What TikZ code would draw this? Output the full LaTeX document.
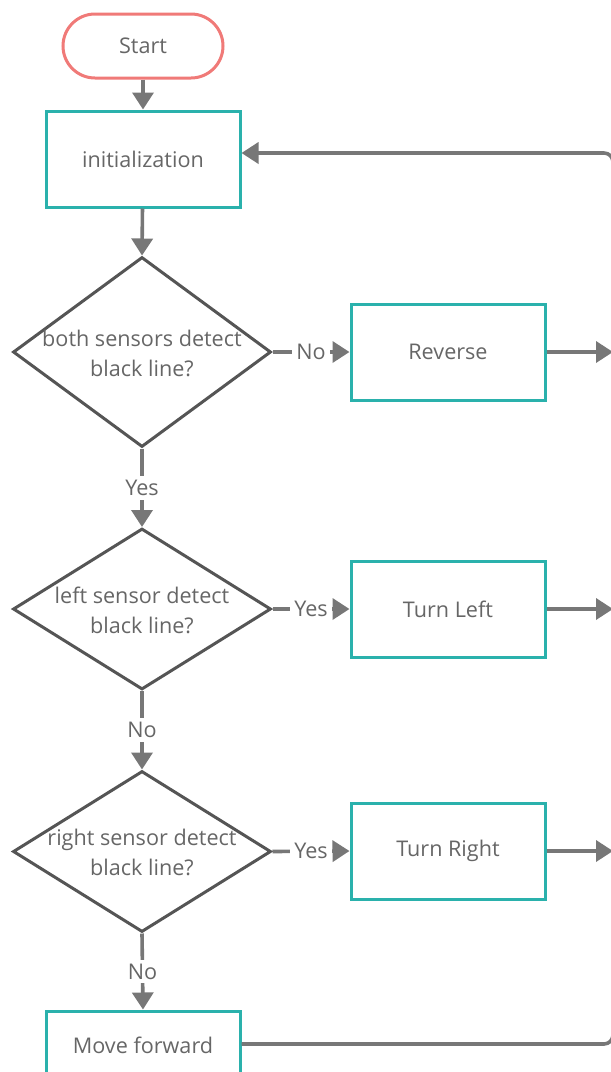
\documentclass[tikz,border=0pt]{standalone}
\usepackage{fontspec}
\setmainfont{Open Sans}
\usetikzlibrary{shapes.geometric,arrows.meta,calc}
\definecolor{boxteal}{HTML}{2AB1AC}
\definecolor{startred}{HTML}{F07A78}
\definecolor{wiregray}{HTML}{777777}
\definecolor{decgray}{HTML}{555555}
\definecolor{txtgray}{HTML}{666666}
\tikzset{
  every node/.style={font=\fontsize{21.6}{30}\selectfont, text=txtgray, align=center},
  terminal/.style={draw=startred, line width=3pt, rectangle, rounded corners=32pt,
    minimum width=160pt, minimum height=64pt, inner sep=0pt},
  procbox/.style={draw=boxteal, line width=3pt, rectangle,
    minimum width=194pt, minimum height=96pt, inner sep=0pt},
  decision/.style={draw=decgray, line width=3pt, diamond, inner sep=0pt,
    minimum width=258pt, minimum height=#1},
  decision/.default=190pt,
  wire/.style={draw=wiregray, line width=3.6pt},
  conn/.style={wire, -{Triangle[length=17pt,width=21pt]}},
  lbl/.style={fill=white, inner sep=4pt},
}
\begin{document}
\begin{tikzpicture}[x=1pt,y=-1pt]
\useasboundingbox (0,0) rectangle (611,1072);
\clip (0,0) rectangle (611,1072);

% main column
\node[terminal] (start) at (143,46) {Start};
\node[procbox] (init) at (143,159) {initialization};
\node[decision] (d1) at (142,352) {};
\node (d1t) at (142,353) {both sensors detect\\black line?};
\node[decision=161pt] (d2) at (142,609) {};
\node (d2t) at (142,610) {left sensor detect\\black line?};
\node[decision=161pt] (d3) at (142,851.5) {};
\node (d3t) at (142,852) {right sensor detect\\black line?};
\node[procbox, minimum height=68pt] (mf) at (143,1045) {Move forward};

% action column
\node[procbox] (rev) at (448,352) {Reverse};
\node[procbox] (tl) at (448,609) {Turn Left};
\node[procbox] (tr) at (448,851) {Turn Right};

% return rail on the right
\coordinate (rt) at (613,153);
\coordinate (rb) at (613,1044);

% connectors
\draw[conn] (start) -- (init);
\draw[conn] (init) -- (d1.north);
\draw[conn] (d1.south) -- node[lbl] {Yes} (d2.north);
\draw[conn] (d2.south) -- node[lbl] {No} (d3.north);
\draw[conn] (d3.south) -- node[lbl] {No} (mf.north);

\draw[conn] (d1.east) -- node[lbl] {No} (rev.west);
\draw[conn] (d2.east) -- node[lbl] {Yes} (tl.west);
\draw[conn] (d3.east) -- node[lbl] {Yes} (tr.west);

\draw[conn] (rev.east) -- (rev.east -| rt);
\draw[conn] (tl.east) -- (tl.east -| rt);
\draw[conn] (tr.east) -- (tr.east -| rt);

\draw[conn, rounded corners=9pt] (mf.east |- rb) -- (rb) -- (rt) -- (init.east |- rt);
\end{tikzpicture}
\end{document}
